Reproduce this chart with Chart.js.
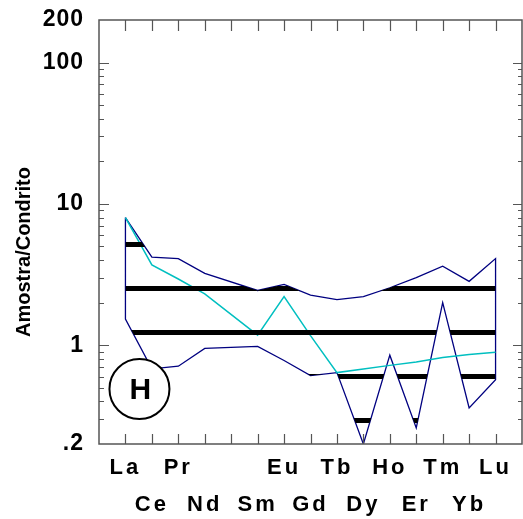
<!DOCTYPE html>
<html>
<head>
<meta charset="utf-8">
<script src="https://cdn.jsdelivr.net/npm/chart.js@4"></script>
<style>
  html, body { margin: 0; padding: 0; background: #fff; }
  canvas { display: block; }
</style>
</head>
<body>
<canvas id="grafico" width="523" height="519"></canvas>
<script>
// Elementos terras raras (Pm sem dado)
const elementos = ["La", "Ce", "Pr", "Nd", "Pm", "Sm", "Eu", "Gd", "Tb", "Dy", "Ho", "Er", "Tm", "Yb", "Lu"];

// Envoltória do campo (linha azul) - normalizado ao condrito
const limiteSuperior = [8.0, 4.2, 4.1, 3.22, null, 2.44, 2.69, 2.26, 2.10, 2.21, 2.55, 3.01, 3.62, 2.83, 4.10];
const limiteInferior = [1.53, 0.68, 0.71, 0.95, null, 0.98, 0.78, 0.61, 0.64, 0.20, 0.85, 0.26, 2.0, 0.36, 0.57];

// Amostra (linha ciano)
const amostra = [8.0, 3.70, 2.94, 2.31, null, 1.18, 2.21, 1.17, 0.64, 0.68, 0.72, 0.76, 0.82, 0.86, 0.89];

// Rótulos do eixo Y
const rotulosY = [0.2, 1, 10, 100, 200];

// Posição do selo "H" (coordenadas de dados)
const selo = { x: 1.53, y: 0.49, texto: "H" };

const fonte = "'Liberation Sans', Arial, sans-serif";

function pontos(valores) {
  return valores
    .map((v, i) => ({ x: i + 1, y: v }))
    .filter((p) => p.y !== null);
}

// contorno fechado do campo
const sup = pontos(limiteSuperior);
const inf = pontos(limiteInferior);
const contorno = sup.concat(inf.slice().reverse(), [sup[0]]);

// hachura horizontal preta
function hachura() {
  const c = document.createElement("canvas");
  c.width = 4;
  c.height = 44;
  const g = c.getContext("2d");
  g.fillStyle = "#000";
  g.fillRect(0, 22, 4, 5);
  return g.createPattern(c, "repeat");
}

// tira o espaço extra que o Chart.js reserva para os rótulos
function semFolga(s) {
  s.paddingLeft = 0;
  s.paddingRight = 0;
  s.paddingTop = 0;
  s.paddingBottom = 0;
}

const moldura = {
  id: "moldura",
  beforeDraw(chart) {
    // rótulos do eixo Y (desenhados antes das séries)
    chart.ctx.letterSpacing = "1px";
  },
  afterDatasetsDraw(chart) {
    const { ctx, scales: { x, y } } = chart;
    const cx = x.getPixelForValue(selo.x);
    const cy = y.getPixelForValue(selo.y);
    ctx.save();
    ctx.letterSpacing = "0px";
    ctx.beginPath();
    ctx.arc(cx, cy, 30, 0, Math.PI * 2);
    ctx.fillStyle = "#fff";
    ctx.fill();
    ctx.lineWidth = 2;
    ctx.strokeStyle = "#000";
    ctx.stroke();
    ctx.fillStyle = "#000";
    ctx.font = "bold 30px " + fonte;
    ctx.textAlign = "center";
    ctx.textBaseline = "middle";
    ctx.fillText(selo.texto, cx + 1, cy + 2);
    ctx.restore();
    // rótulos do eixo X, mais espaçados
    ctx.letterSpacing = "3px";
  },
  afterDraw(chart) {
    const { ctx, chartArea: a, scales: { x, y } } = chart;
    ctx.letterSpacing = "0px";
    ctx.save();
    ctx.strokeStyle = "#555";
    ctx.lineWidth = 1.5;
    ctx.strokeRect(a.left, a.top, a.right - a.left, a.bottom - a.top);

    ctx.lineWidth = 1.2;
    ctx.beginPath();
    // marcas do eixo X (topo e base, para dentro)
    for (let i = 1; i <= elementos.length; i++) {
      const px = Math.round(x.getPixelForValue(i)) + 0.5;
      ctx.moveTo(px, a.bottom);
      ctx.lineTo(px, a.bottom - 10);
      ctx.moveTo(px, a.top);
      ctx.lineTo(px, a.top + 11);
    }
    // marcas do eixo Y (log), maiores nas décadas
    for (let dec = 0.1; dec < 200; dec *= 10) {
      for (let m = 1; m <= 9; m++) {
        const v = dec * m;
        if (v <= 0.2 || v >= 200) continue;
        const py = Math.round(y.getPixelForValue(v)) + 0.5;
        const maior = m === 1;
        ctx.moveTo(a.left, py);
        ctx.lineTo(a.left + (maior ? 10 : 5), py);
        ctx.moveTo(a.right, py);
        ctx.lineTo(a.right - (maior ? 9 : 4), py);
      }
    }
    ctx.stroke();

    // título do eixo Y
    ctx.fillStyle = "#000";
    ctx.font = "bold 20px " + fonte;
    ctx.textAlign = "center";
    ctx.textBaseline = "middle";
    ctx.translate(24, 252);
    ctx.rotate(-Math.PI / 2);
    ctx.fillText("Amostra/Condrito", 0, 0);
    ctx.restore();
  },
};

const ctx = document.getElementById("grafico").getContext("2d");

new Chart(ctx, {
  type: "line",
  data: {
    datasets: [
      {
        data: sup,
        borderWidth: 0,
        borderColor: "transparent",
        backgroundColor: hachura(),
        fill: "+1",
        pointRadius: 0,
      },
      {
        data: inf,
        borderWidth: 0,
        borderColor: "transparent",
        fill: false,
        pointRadius: 0,
      },
      {
        data: pontos(amostra),
        borderColor: "#00bfc0",
        borderWidth: 1.5,
        fill: false,
        pointRadius: 0,
      },
      {
        data: contorno,
        borderColor: "#000080",
        borderWidth: 1.3,
        fill: false,
        pointRadius: 0,
      },
    ],
  },
  options: {
    responsive: false,
    animation: false,
    events: [],
    layout: { padding: { left: 0, right: 1, top: 20, bottom: 0 } },
    plugins: {
      legend: { display: false },
      tooltip: { enabled: false },
    },
    scales: {
      x: {
        type: "linear",
        min: 0,
        max: elementos.length + 1,
        grid: { display: false, drawTicks: false },
        border: { display: false },
        afterFit: (s) => { s.height = 75; semFolga(s); },
        ticks: {
          z: 1,
          stepSize: 1,
          autoSkip: false,
          maxRotation: 0,
          padding: 6,
          color: "#000",
          font: { family: fonte, size: 22, weight: "bold", lineHeight: "36.5px" },
          callback: (v) => {
            const nome = elementos[v - 1];
            if (!nome || nome === "Pm") return ["", ""];
            return v % 2 === 1 ? [nome, ""] : ["", nome];
          },
        },
      },
      y: {
        type: "logarithmic",
        min: 0.2,
        max: 200,
        grid: { display: false, drawTicks: false },
        border: { display: false },
        afterFit: (s) => { s.width = 99; semFolga(s); },
        afterBuildTicks: (s) => {
          s.ticks = rotulosY.map((v) => ({ value: v }));
        },
        ticks: {
          z: 0,
          padding: 15,
          color: "#000",
          font: { family: fonte, size: 23, weight: "bold" },
          callback: (v) => (v < 1 ? String(v).replace(/^0/, "") : String(v)),
        },
      },
    },
  },
  plugins: [moldura],
});
</script>
</body>
</html>
